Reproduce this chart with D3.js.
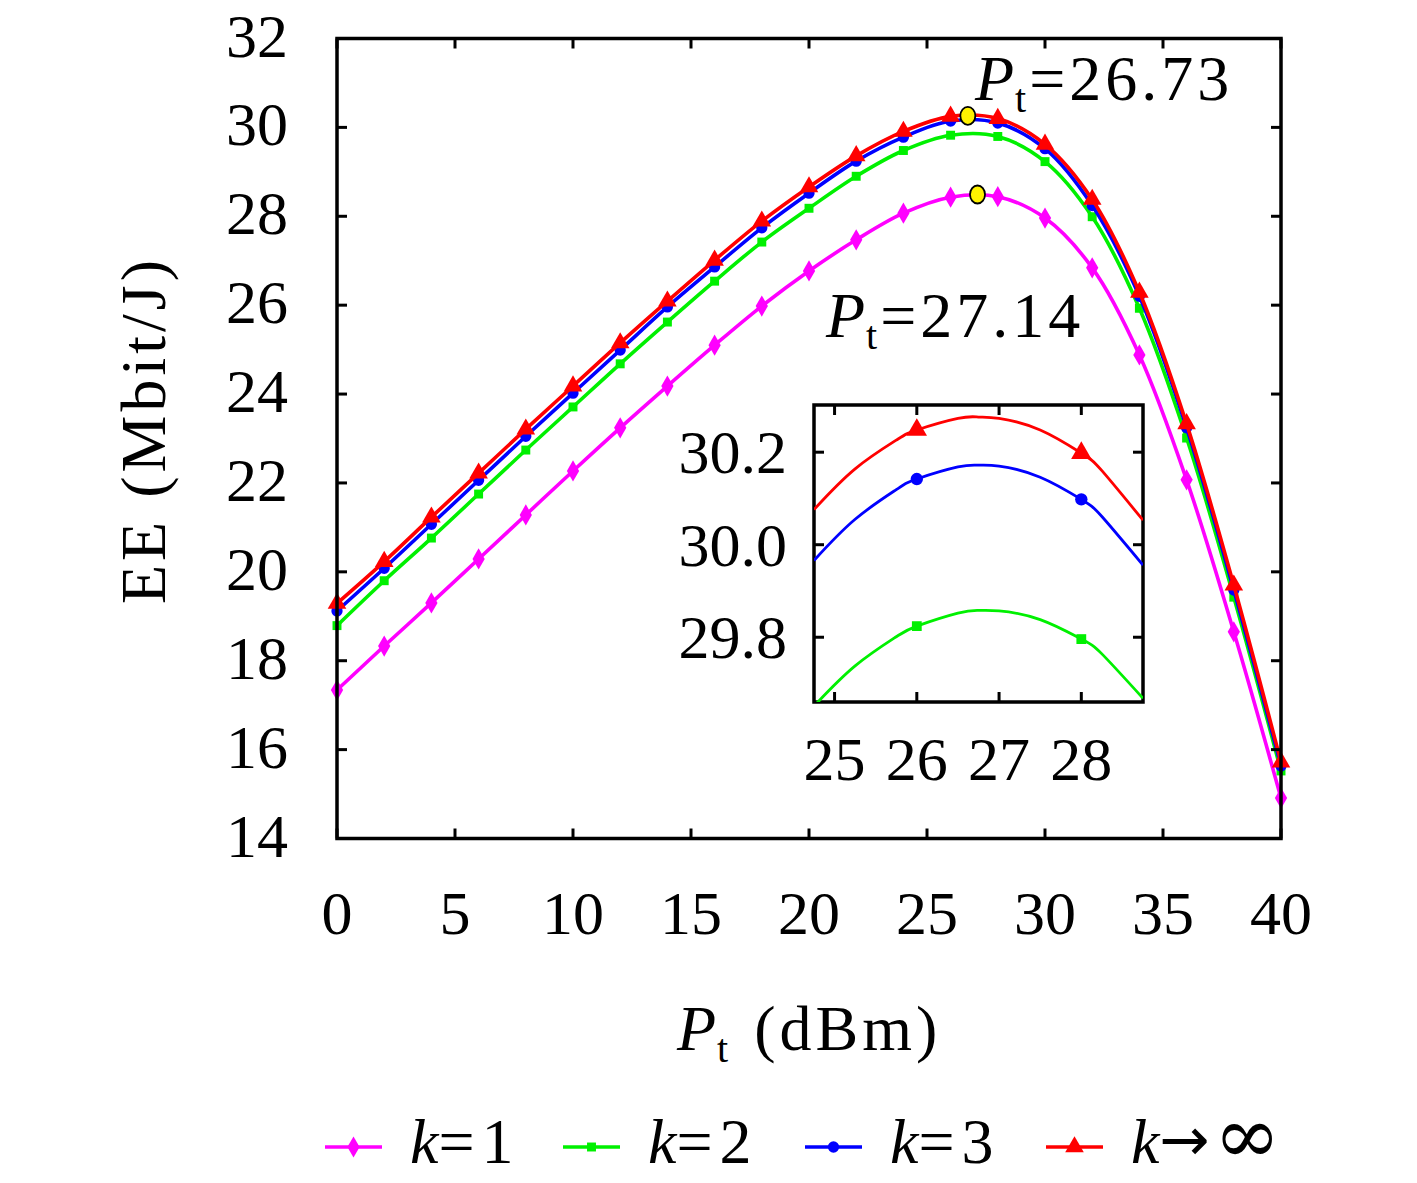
<!DOCTYPE html>
<html>
<head>
  <meta charset="utf-8">
  <script src="https://d3js.org/d3.v7.min.js"></script>
  <style>
    body, html { margin: 0; padding: 0; background: #fff; }
    svg { display: block; font-family: 'Liberation Serif', 'DejaVu Serif', serif; }
  </style>
</head>
<body>
<svg width="1417" height="1183"></svg>
<script>
// transmit power (dBm), one marker every 2 dBm
const ptValues = [0, 2, 4, 6, 8, 10, 12, 14, 16, 18, 20, 22, 24, 26, 28, 30, 32, 34, 36, 38, 40];

// energy efficiency (Mbit/J) per k
const eeK1   = [17.34, 18.33, 19.30, 20.29, 21.28, 22.27, 23.24, 24.18, 25.10, 25.98, 26.77, 27.47, 28.07, 28.43, 28.44, 27.96, 26.84, 24.88, 22.07, 18.65, 14.91];
const eeK2   = [18.79, 19.80, 20.76, 21.75, 22.74, 23.71, 24.68, 25.62, 26.54, 27.42, 28.18, 28.90, 29.48, 29.824, 29.796, 29.23, 27.99, 25.93, 23.01, 19.43, 15.52];
const eeK3   = [19.12, 20.08, 21.07, 22.06, 23.05, 24.02, 24.99, 25.96, 26.86, 27.74, 28.52, 29.24, 29.78, 30.142, 30.098, 29.52, 28.24, 26.20, 23.24, 19.59, 15.63];
const eeKInf = [19.29, 20.23, 21.23, 22.22, 23.21, 24.18, 25.15, 26.09, 27.01, 27.89, 28.66, 29.36, 29.91, 30.248, 30.198, 29.62, 28.38, 26.29, 23.33, 19.70, 15.72];

// zoomed curves for the inset
const insetPt     = [24.75, 25.25, 25.75, 26, 26.5, 26.75, 27, 27.5, 28, 28.25, 28.75];
const insetK2     = [29.651, 29.738, 29.801, 29.824, 29.852, 29.858, 29.857, 29.838, 29.796, 29.764, 29.668];
const insetK3     = [29.966, 30.055, 30.119, 30.142, 30.168, 30.172, 30.170, 30.146, 30.098, 30.061, 29.956];
const insetKInf   = [30.076, 30.164, 30.226, 30.248, 30.273, 30.276, 30.273, 30.248, 30.198, 30.160, 30.053];

// optimum points (yellow)
const optPt = [27.14, 26.73];
const optEE = [28.49, 30.26];

const xTicks = [0, 5, 10, 15, 20, 25, 30, 35, 40];
const yTicks = [14, 16, 18, 20, 22, 24, 26, 28, 30, 32];
const insetXTicks = [25, 26, 27, 28];
const insetYTicks = [29.8, 30.0, 30.2];
const seriesLabels = ["=1", "=2", "=3", "\u2192\u221e"];

const colors = ["#ff00ff", "#00f000", "#0000ff", "#ff0000"];
const symbols = ["diamond", "square", "circle", "triangle"];

const series = [eeK1, eeK2, eeK3, eeKInf].map((vals, i) => ({
  name: seriesLabels[i],
  color: colors[i],
  symbol: symbols[i],
  points: ptValues.map((p, j) => ({x: p, y: vals[j]}))
}));
const insetSeries = [null, insetK2, insetK3, insetKInf].map((vals, i) => vals ? ({
  color: colors[i], symbol: symbols[i],
  points: insetPt.map((p, j) => ({x: p, y: vals[j]}))
}) : null);

const svg = d3.select("svg");

// marker drawing
function marker(sel, type, color, scale) {
  scale = scale || 1;
  const sizes = {diamond: 130, square: 80, circle: 100, triangle: 150};
  const types = {diamond: d3.symbolDiamond, square: d3.symbolSquare, circle: d3.symbolCircle, triangle: d3.symbolTriangle};
  sel.append("path")
    .attr("d", d3.symbol().type(types[type]).size(sizes[type] * scale)())
    .attr("fill", color);
}

// ---------- main plot ----------
const plotL = 337, plotR = 1281, plotT = 38.5, plotB = 838.5;
const x = d3.scaleLinear().domain([0, 40]).range([plotL, plotR]);
const y = d3.scaleLinear().domain([14, 32]).range([plotB, plotT]);

const line = d3.line().x(d => x(d.x)).y(d => y(d.y)).curve(d3.curveCatmullRom);

series.forEach(s => {
  svg.append("path")
    .datum(s.points)
    .attr("d", line)
    .attr("fill", "none")
    .attr("stroke", s.color)
    .attr("stroke-width", 3.6)
    .attr("stroke-linejoin", "round");
  s.points.forEach(p => {
    const g = svg.append("g").attr("transform", "translate(" + x(p.x) + "," + y(p.y) + ")");
    marker(g, s.symbol, s.color);
  });
});

// optimum markers
optPt.forEach((p, i) => {
  svg.append("ellipse")
    .attr("cx", x(p)).attr("cy", y(optEE[i]))
    .attr("rx", 7.5).attr("ry", 9)
    .attr("fill", "#fff200")
    .attr("stroke", "#000")
    .attr("stroke-width", 1.8);
});

// axes, ticks inward on all four sides
const tickLen = 10;
function drawAxes(xs, ys, xt, yt, opts) {
  const [x0, x1] = xs.range(), [y0, y1] = ys.range();
  const g = svg.append("g");
  if (opts.bg) {
    g.append("rect").attr("x", x0).attr("y", y1).attr("width", x1 - x0).attr("height", y0 - y1).attr("fill", "#fff");
  }
  xt.forEach(t => {
    g.append("line").attr("x1", xs(t)).attr("x2", xs(t)).attr("y1", y0).attr("y2", y0 - tickLen)
      .attr("stroke", "#000").attr("stroke-width", 3);
    g.append("line").attr("x1", xs(t)).attr("x2", xs(t)).attr("y1", y1).attr("y2", y1 + tickLen)
      .attr("stroke", "#000").attr("stroke-width", 3);
    g.append("text").attr("x", xs(t)).attr("y", y0 + opts.xLabelDy)
      .attr("text-anchor", "middle").attr("font-size", opts.fs)
      .text(opts.xFmt(t));
  });
  yt.forEach(t => {
    g.append("line").attr("x1", x0).attr("x2", x0 + tickLen).attr("y1", ys(t)).attr("y2", ys(t))
      .attr("stroke", "#000").attr("stroke-width", 3);
    g.append("line").attr("x1", x1).attr("x2", x1 - tickLen).attr("y1", ys(t)).attr("y2", ys(t))
      .attr("stroke", "#000").attr("stroke-width", 3);
    g.append("text").attr("x", x0 - opts.yLabelDx).attr("y", ys(t) + opts.yLabelDy)
      .attr("text-anchor", "end").attr("font-size", opts.fs)
      .text(opts.yFmt(t));
  });
  g.append("rect").attr("x", x0).attr("y", y1).attr("width", x1 - x0).attr("height", y0 - y1)
    .attr("fill", "none").attr("stroke", "#000").attr("stroke-width", 3.5);
  return g;
}

drawAxes(x, y, xTicks, yTicks, {
  fs: 62, xLabelDy: 95, yLabelDx: 49, yLabelDy: 18,
  xFmt: d3.format("d"), yFmt: d3.format("d")
});

// axis titles
svg.append("text")
  .attr("transform", "translate(165,430) rotate(-90)")
  .attr("text-anchor", "middle")
  .attr("font-size", 64)
  .attr("letter-spacing", 4)
  .text("EE (Mbit/J)");

const xt = svg.append("text").attr("x", 677).attr("y", 1050).attr("font-size", 64);
xt.append("tspan").attr("font-style", "italic").text("P");
xt.append("tspan").attr("font-size", 40).attr("dy", 12).attr("dx", 1).text("t");
xt.append("tspan").attr("dy", -12).attr("dx", 26).attr("letter-spacing", 4).text("(dBm)");

// peak annotations
function ptLabel(px, py, val) {
  const t = svg.append("text").attr("x", px).attr("y", py).attr("font-size", 64);
  t.append("tspan").attr("font-style", "italic").text("P");
  t.append("tspan").attr("font-size", 40).attr("dy", 12).attr("dx", 1).text("t");
  t.append("tspan").attr("dy", -12).attr("dx", 3).attr("letter-spacing", 4).text("=" + val);
}
ptLabel(975, 100, "26.73");
ptLabel(826, 337, "27.14");

// ---------- inset ----------
const ix = d3.scaleLinear().domain([24.75, 28.75]).range([814, 1143]);
const iy = d3.scaleLinear().domain([29.66, 30.302]).range([702, 405]);

drawAxes(ix, iy, insetXTicks, insetYTicks, {
  bg: true, fs: 62, xLabelDy: 78, yLabelDx: 27, yLabelDy: 21,
  xFmt: d3.format("d"), yFmt: d3.format(".1f")
});

svg.append("clipPath").attr("id", "insetClip")
  .append("rect").attr("x", 814).attr("y", 405).attr("width", 329).attr("height", 297);

const iline = d3.line().x(d => ix(d.x)).y(d => iy(d.y)).curve(d3.curveNatural);
const ig = svg.append("g").attr("clip-path", "url(#insetClip)");
insetSeries.forEach((s, i) => {
  if (!s) return;
  ig.append("path").datum(s.points).attr("d", iline)
    .attr("fill", "none").attr("stroke", s.color).attr("stroke-width", 2.8);
  series[i].points.filter(p => p.x >= 24.75 && p.x <= 28.75).forEach(p => {
    const g = ig.append("g").attr("transform", "translate(" + ix(p.x) + "," + iy(p.y) + ")");
    marker(g, s.symbol, s.color, 1.2);
  });
});

// ---------- legend ----------
const legendX = [325, 563, 805, 1046];
series.forEach((s, i) => {
  const lx = legendX[i], ly = 1147;
  svg.append("line").attr("x1", lx).attr("x2", lx + 57).attr("y1", ly).attr("y2", ly)
    .attr("stroke", s.color).attr("stroke-width", 3.4);
  const g = svg.append("g").attr("transform", "translate(" + (lx + 28.5) + "," + ly + ")");
  marker(g, s.symbol, s.color);
  const t = svg.append("text").attr("x", lx + 85).attr("y", 1163).attr("font-size", 64);
  t.append("tspan").attr("font-style", "italic").text("k");
  if (i < 3) {
    t.append("tspan").attr("letter-spacing", 7).text(s.name);
  } else {
    t.append("tspan").attr("font-family", "'DejaVu Sans'").attr("font-size", 60).attr("dy", -3).text(s.name[0]);
    t.append("tspan").attr("font-family", "'DejaVu Serif'").attr("font-size", 80).attr("dy", 3).attr("dx", 4).text(s.name[1]);
  }
});
</script>
</body>
</html>
